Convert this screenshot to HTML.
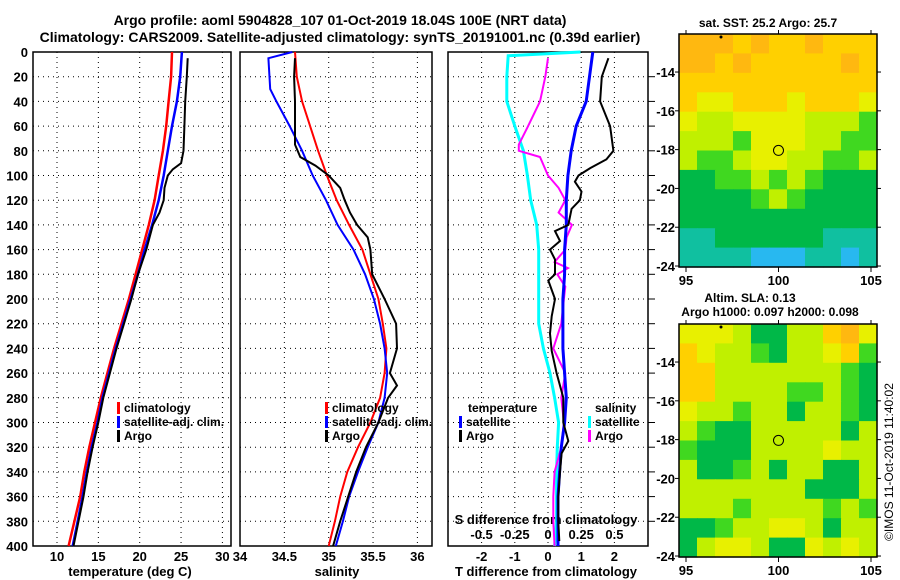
<!DOCTYPE html>
<html><head><meta charset="utf-8"><style>
body{margin:0;background:#fff;}
svg{display:block;font-family:"Liberation Sans",sans-serif;font-weight:bold;}
</style></head><body>
<svg id="c" width="900" height="580" xmlns="http://www.w3.org/2000/svg"></svg>
<script>
// ---------- DATA ----------
const depthTicks=[0,20,40,60,80,100,120,140,160,180,200,220,240,260,280,300,320,340,360,380,400];
const tempTicks=[10,15,20,25,30];
const salTicks=[34,34.5,35,35.5,36];
const tdiffTicks=[-2,-1,0,1,2];
const sdiffTicks=[-0.5,-0.25,0,0.25,0.5];
const sdiffLabels=["-0.5","-0.25","0","0.25","0.5"];
const stdDepths=[0,20,40,60,80,100,120,140,160,180,200,220,240,260,280,300,320,340,360,380,400];
const tempClim=[23.9,23.8,23.5,23.2,22.8,22.3,21.8,21.1,20.3,19.5,18.7,17.8,16.9,16.1,15.3,14.6,13.9,13.3,12.8,12.1,11.4];
const tempSat=[25.1,24.9,24.5,23.9,23.4,22.9,22.3,21.5,20.6,19.8,18.9,18.0,17.1,16.3,15.5,14.9,14.2,13.6,13.1,12.5,11.9];
const argoTDepth=[5,20,40,60,80,90,95,100,110,120,130,140,160,180,200,220,240,260,280,300,320,340,360,380,400];
const argoTemp=[25.8,25.7,25.5,25.4,25.3,25.0,24.0,23.4,23.0,22.9,22.4,21.6,20.8,19.8,19.0,18.1,17.2,16.4,15.6,15.0,14.3,13.7,13.2,12.6,12.0];
const salClim=[34.62,34.64,34.70,34.79,34.88,34.98,35.09,35.23,35.38,35.47,35.56,35.61,35.65,35.63,35.58,35.47,35.33,35.21,35.13,35.07,35.0];
const salSatDepth=[0,5,30,40,60,80,100,120,140,160,180,200,220,240,260,280,300,320,340,360,380,400];
const salSat=[34.59,34.32,34.34,34.41,34.56,34.70,34.82,34.97,35.10,35.28,35.41,35.51,35.58,35.63,35.66,35.63,35.56,35.44,35.33,35.23,35.16,35.08];
const argoSDepth=[5,20,40,60,75,85,92,100,110,120,130,140,150,160,180,200,220,240,260,270,280,300,320,340,360,380,400];
const argoSal=[34.62,34.61,34.62,34.62,34.62,34.68,34.85,35.0,35.13,35.18,35.24,35.32,35.44,35.47,35.49,35.63,35.76,35.77,35.69,35.77,35.67,35.56,35.42,35.31,35.22,35.13,35.05];
const tdSat=[1.35,1.25,1.15,0.85,0.7,0.6,0.55,0.55,0.5,0.5,0.45,0.45,0.45,0.5,0.55,0.5,0.4,0.35,0.3,0.3,0.3];
const tdArgoDepth=[5,20,40,60,80,87,94,100,105,113,120,127,140,145,153,160,168,180,185,200,214,228,242,260,280,300,315,325,340,360,380,396];
const tdArgo=[1.82,1.62,1.57,1.87,1.97,1.76,1.27,0.92,0.81,1.01,0.96,0.71,0.61,0.21,0.36,0.06,0.21,0.21,0.01,0.21,0.11,0.06,0.11,0.26,0.46,0.46,0.61,0.41,0.36,0.31,0.31,0.34];
const sdSatDepth=[0,3,20,40,60,80,100,120,140,160,180,200,220,240,260,280,300,320,340,360,380,400];
const sdSat=[0.245,-0.30,-0.31,-0.31,-0.25,-0.185,-0.155,-0.13,-0.085,-0.07,-0.07,-0.07,-0.07,-0.035,0.015,0.05,0.08,0.07,0.065,0.065,0.065,0.05];
const sdArgoDepth=[5,20,40,60,75,80,85,100,110,120,130,140,150,160,170,175,180,190,200,220,240,260,280,300,320,340,360,380,400];
const sdArgo=[0.0,-0.02,-0.06,-0.15,-0.22,-0.22,-0.06,0.0,0.08,0.13,0.08,0.18,0.14,0.13,0.05,0.15,0.07,0.13,0.12,0.10,0.04,0.13,0.10,0.12,0.10,0.05,0.04,0.04,0.05];
const sstGrid=[
[7,7,7,6,7,6,6,7,6,6,6],[7,7,6,7,6,6,6,6,6,7,6],[6,6,6,6,6,6,6,6,6,6,6],[6,5,5,6,6,6,5,6,6,6,5],
[5,4,4,5,5,5,5,4,4,4,3],[4,4,4,3,5,5,5,4,4,3,3],[4,3,3,4,5,5,4,4,3,3,4],[2,2,3,3,4,3,4,3,2,2,2],
[2,2,2,2,3,4,3,2,2,2,2],[2,2,2,2,2,2,2,2,2,2,2],[1,1,2,2,2,2,2,2,1,1,1],[1,1,1,1,0,0,0,1,1,0,1]];
const slaGrid=[
[5,5,5,4,2,2,4,4,6,7,5],[6,5,4,4,3,2,4,4,5,6,3],[6,6,4,4,4,4,4,4,4,3,2],[6,6,4,4,4,4,3,3,4,3,2],
[5,4,4,3,4,4,2,4,4,3,2],[4,3,2,2,4,4,4,4,4,2,4],[3,2,2,2,4,4,4,4,5,4,4],[4,2,2,3,4,2,4,4,2,2,4],
[4,4,4,4,4,4,4,2,2,2,4],[4,4,4,3,4,4,4,4,3,4,3],[2,2,3,4,4,5,5,4,2,4,4],[2,4,5,5,4,2,2,5,4,5,4]];
const palette=["#28b8f0","#10c0a0","#00b848","#40d820","#c0f000","#e8f000","#ffd000","#ffb810"];
const lonTicks=[95,100,105];
const latTicks=[-14,-16,-18,-20,-22,-24];
// ---------- DRAW ----------
const S=document.getElementById('c');const NS="http://www.w3.org/2000/svg";
function el(t,a,p){const e=document.createElementNS(NS,t);for(const k in a)e.setAttribute(k,a[k]);(p||S).appendChild(e);return e;}
function txt(x,y,s,size,anchor,p){const e=el('text',{x:x,y:y,'font-size':size,'text-anchor':anchor||'middle'},p);e.textContent=s;return e;}
const Y=d=>52+d*1.235;
const XT=t=>57+(t-10)*8.27;
const XS=s=>240+(s-34)*88.7;
const XD=t=>548+t*33.2;
const XSD=s=>548+s*4*33.2;
function panel(name,x0,x1,xticks,xf){
  const g=el('g',{});
  
  
  depthTicks.forEach(d=>{if(d>0&&d<400)el('line',{x1:x0,x2:x1,y1:Y(d),y2:Y(d),stroke:'#000','stroke-dasharray':'1,4'},g);});
  xticks.forEach(v=>{const x=xf(v);if(x>x0+2&&x<x1-2)el('line',{x1:x,x2:x,y1:52,y2:546,stroke:'#000','stroke-dasharray':'1,4'},g);});
  el('rect',{x:x0,y:52,width:x1-x0,height:494,fill:'none',stroke:'#000','stroke-width':1.5},g);
  return g;
}
function line(xs,ds,xf,col,w,name){
  const p=el('polyline',{points:xs.map((v,i)=>xf(v).toFixed(1)+','+Y(ds[i]).toFixed(1)).join(' '),fill:'none',stroke:col,'stroke-width':w});
  
  
}
let t1=txt(340,25,"Argo profile: aoml 5904828_107 01-Oct-2019 18.04S 100E (NRT data)",14);


let t2=txt(340,42,"Climatology: CARS2009. Satellite-adjusted climatology: synTS_20191001.nc (0.39d earlier)",14);


panel('temperature-panel',33,231,tempTicks,XT);
depthTicks.forEach(d=>{const e=txt(28,Y(d)+5,String(d),13,'end');});
tempTicks.forEach(v=>{const e=txt(XT(v),561,String(v),13);});
let a1=txt(130,576,"temperature (deg C)",13);
line(tempClim,stdDepths,XT,'#f00',2.5,'temp-climatology-line');
line(tempSat,stdDepths,XT,'#00f',2.5,'temp-satellite-line');
line(argoTemp,argoTDepth,XT,'#000',2,'temp-argo-line');
panel('salinity-panel',240,432,salTicks,XS);
salTicks.forEach(v=>{const e=txt(XS(v),561,String(v),13);});
let a2=txt(337,576,"salinity",13);
line(salClim,stdDepths,XS,'#f00',2,'sal-climatology-line');
line(salSat,salSatDepth,XS,'#00f',2,'sal-satellite-line');
line(argoSal,argoSDepth,XS,'#000',2,'sal-argo-line');
panel('difference-panel',448,648,tdiffTicks,XD);
depthTicks.forEach(d=>{if(d>0&&d<400)el('line',{x1:648,x2:655,y1:Y(d),y2:Y(d),stroke:'#000'});});
tdiffTicks.forEach(v=>{const e=txt(XD(v),561,String(v),13);});
sdiffTicks.forEach((v,i)=>{const e=txt(XSD(v),539,sdiffLabels[i],13);});
let a3=txt(546,576,"T difference from climatology",13);
let a4=txt(546,524,"S difference from climatology",13);
line(sdSat,sdSatDepth,XSD,'#0ff',3,'sdiff-satellite-line');
line(sdArgo,sdArgoDepth,XSD,'#f0f',2,'sdiff-argo-line');
line(tdSat,stdDepths,XD,'#00f',3,'tdiff-satellite-line');
line(tdArgo,tdArgoDepth,XD,'#000',2,'tdiff-argo-line');
function legItem(x,y,col,label,name){
  const g=el('g',{});
  
  
  el('rect',{x:x,y:y-10,width:3,height:12,fill:col},g);
  txt(x+7,y,label,12,'start',g);
}
legItem(117,412,'#f00','climatology','legend-climatology');
legItem(117,426,'#00f','satellite-adj. clim.','legend-satellite-adj');
legItem(117,440,'#000','Argo','legend-argo');
legItem(325,412,'#f00','climatology','legend2-climatology');
legItem(325,426,'#00f','satellite-adj. clim.','legend2-satellite-adj');
legItem(325,440,'#000','Argo','legend2-argo');
let lt=txt(468,412,"temperature",12,'start');
let ls=txt(595,412,"salinity",12,'start');
legItem(459,426,'#00f','satellite','legend-t-satellite');
legItem(459,440,'#000','Argo','legend-t-argo');
legItem(588,426,'#0ff','satellite','legend-s-satellite');
legItem(588,440,'#f0f','Argo','legend-s-argo');
function map(name,y0,grid){
  const g=el('g',{});
  
  
  const x0=679,w=198,h=233,cw=w/11,ch=h/12;
  grid.forEach((row,r)=>row.forEach((v,c)=>{el('rect',{x:(x0+c*cw).toFixed(1),y:(y0+r*ch).toFixed(1),width:(cw+0.6).toFixed(1),height:(ch+0.6).toFixed(1),fill:palette[v]},g);}));
  el('rect',{x:x0,y:y0,width:w,height:h,fill:'none',stroke:'#000','stroke-width':1.5},g);
  const LX=l=>686+(l-95)*18.5, LY=la=>y0+(-12.04-la)*19.4;
  lonTicks.forEach(l=>{el('line',{x1:LX(l),x2:LX(l),y1:y0+h,y2:y0+h+5,stroke:'#000'},g);el('line',{x1:LX(l),x2:LX(l),y1:y0,y2:y0-4,stroke:'#000'},g);txt(LX(l),y0+h+18,String(l),13,'middle',g);});
  latTicks.forEach(la=>{el('line',{x1:x0-4,x2:x0,y1:LY(la),y2:LY(la),stroke:'#000'},g);el('line',{x1:x0+w,x2:x0+w+4,y1:LY(la),y2:LY(la),stroke:'#000'},g);txt(x0-4,LY(la)+5,String(la),13,'end',g);});
  el('circle',{cx:LX(100),cy:LY(-18.04),r:5,fill:'none',stroke:'#000','stroke-width':1},g);
  el('circle',{cx:721,cy:y0+3,r:1.5,fill:'#000'},g);
}
map('sst-map',34,sstGrid);
map('sla-map',324,slaGrid);
let m1=txt(768,27,"sat. SST: 25.2 Argo: 25.7",12);
let m2=txt(750,302,"Altim. SLA: 0.13",12);
let m3=txt(770,316,"Argo h1000: 0.097 h2000: 0.098",12);
let cp=el('text',{x:0,y:0,'font-size':12,'font-weight':'normal','text-anchor':'middle',transform:'translate(893,462) rotate(-90)'});
cp.textContent="©IMOS 11-Oct-2019 11:40:02";


</script>
</body></html>
